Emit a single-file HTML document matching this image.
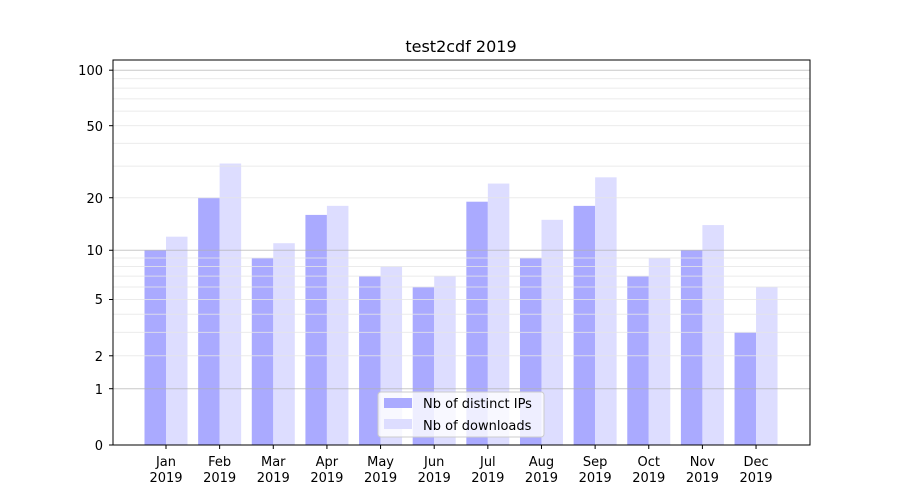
<!DOCTYPE html>
<html><head><meta charset="utf-8"><style>body{margin:0;background:#fff}svg{display:block}text{font-family:"DejaVu Sans","Liberation Sans",sans-serif;font-size:13px;fill:#000}</style></head>
<body>
<svg id="s" width="900" height="500" viewBox="0 0 900 500">
<rect width="900" height="500" fill="#fff"/>
<g id="bars"></g>
<g id="grid"></g>
<rect x="113" y="60" width="697" height="385" fill="none" stroke="#000" stroke-width="1"/>
<text x="461" y="52" text-anchor="middle" style="font-size:16px">test2cdf 2019</text>
<g text-anchor="end">
<text x="103" y="75">100</text><text x="103" y="131">50</text><text x="103" y="203">20</text><text x="103" y="255">10</text><text x="103" y="304">5</text><text x="103" y="361">2</text><text x="103" y="394">1</text><text x="103" y="450">0</text>
</g>
<g id="xl" text-anchor="middle"></g>
<g>
<rect x="378" y="392" width="166" height="45" rx="3" fill="#fff" fill-opacity="0.8" stroke="#ccc"/>
<rect x="384" y="398" width="28" height="10" fill="#aaaaff"/>
<rect x="384" y="419" width="28" height="10" fill="#ddddff"/>
<text x="423" y="408">Nb of distinct IPs</text>
<text x="423" y="430">Nb of downloads</text>
</g>
</svg>
<script>
const ns="http://www.w3.org/2000/svg";
const Y=v=>445-187*Math.log10(1+v);
function el(p,t,a){const e=document.createElementNS(ns,t);for(const k in a)e.setAttribute(k,a[k]);document.getElementById(p).appendChild(e);return e;}
const ip=[10,20,9,16,7,6,19,9,18,7,10,3],dl=[12,31,11,18,8,7,24,15,26,9,14,6];
const m=["Jan","Feb","Mar","Apr","May","Jun","Jul","Aug","Sep","Oct","Nov","Dec"];
for(let i=0;i<12;i++){const c=166+i*53.64;
el("bars","rect",{x:c-21.5,y:Y(ip[i]),width:21.5,height:445-Y(ip[i]),fill:"#aaaaff"});
el("bars","rect",{x:c,y:Y(dl[i]),width:21.5,height:445-Y(dl[i]),fill:"#ddddff"});
el("grid","line",{x1:c,x2:c,y1:445,y2:449,stroke:"#000"});
let t=el("xl","text",{x:c,y:466});t.textContent=m[i];
t=el("xl","text",{x:c,y:482});t.textContent="2019";}
const minor=[2,3,4,5,6,7,8,9,20,30,40,50,60,70,80,90];
minor.forEach(v=>el("grid","line",{x1:113,x2:810,y1:Y(v),y2:Y(v),stroke:"#e6e6e6","stroke-opacity":0.8}));
[1,10,100].forEach(v=>el("grid","line",{x1:113,x2:810,y1:Y(v),y2:Y(v),stroke:"#b0b0b0","stroke-opacity":0.7}));
[0,1,2,5,10,20,50,100].forEach(v=>el("grid","line",{x1:109,x2:113,y1:Y(v),y2:Y(v),stroke:"#000"}));
</script>
</body></html>
